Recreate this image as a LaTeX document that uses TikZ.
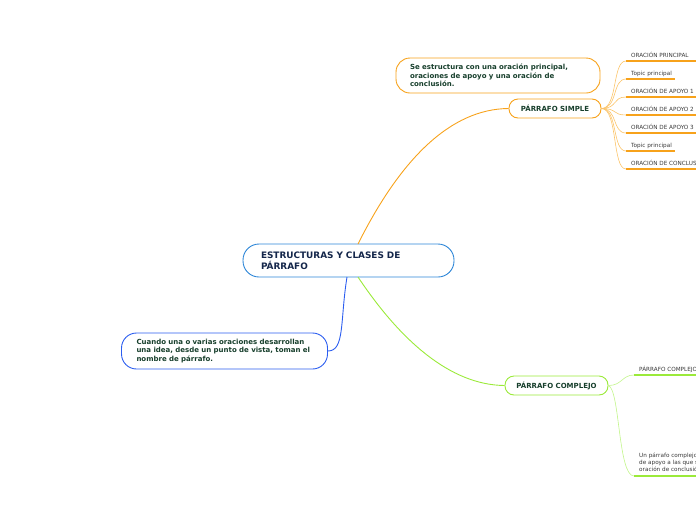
\documentclass[tikz,border=0pt]{standalone}
\usepackage{fontspec}
\setmainfont{DejaVu Sans}
\definecolor{orng}{HTML}{F7A21B}
\definecolor{lorng}{HTML}{FBC46A}
\definecolor{grn}{HTML}{9BEA3A}
\definecolor{lgrn}{HTML}{C2F58A}
\definecolor{cblue}{HTML}{2D86D8}
\definecolor{lblue}{HTML}{2B5DF0}
\definecolor{dtxt}{HTML}{173F2C}
\definecolor{ntxt}{HTML}{14264A}
\definecolor{gtxt}{HTML}{3A3A3A}
\tikzset{
  bubble/.style={draw, line width=0.9pt, fill=white, rounded corners=9pt, inner ysep=0pt, align=left, text=dtxt, font=\bfseries\fontsize{7}{8.7}\selectfont},
  leaftxt/.style={inner sep=0pt, text=gtxt, font=\fontsize{5.7}{7}\selectfont, align=left},
  uline/.style={line width=1.3pt},
  conn/.style={line width=0.6pt},
}
\begin{document}
\begin{tikzpicture}[x=1pt,y=-1pt]
\useasboundingbox (0,0) rectangle (696,520);
\clip (0,0) rectangle (696,520);
% central
\node[bubble, draw=cblue, fill=white, rounded corners=16pt, text width=175pt, inner xsep=18pt, minimum height=33pt, text=ntxt, font=\bfseries\fontsize{8.9}{11.2}\selectfont] (c) at (348.5,260.5) {ESTRUCTURAS Y CLASES DE\\PÁRRAFO};
% top note
\node[bubble, draw=orng, rounded corners=14pt, text width=176pt, inner xsep=14pt, minimum height=35pt] (n1) at (498,75.5) {Se estructura con una oración principal,\\oraciones de apoyo y una oración de\\conclusión.};
% simple
\node[bubble, draw=orng, minimum width=92pt, minimum height=19pt, align=center, inner xsep=0pt] (s) at (555,108.5) {PÁRRAFO SIMPLE};
% left note
\node[bubble, draw=lblue, rounded corners=15pt, text width=176pt, inner xsep=15pt, minimum height=36pt] (n2) at (224.5,351) {Cuando una o varias oraciones desarrollan\\una idea, desde un punto de vista, toman el\\nombre de párrafo.};
% complejo
\node[bubble, draw=grn, minimum width=103pt, minimum height=19pt, align=center, inner xsep=0pt] (k) at (556.5,385.5) {PÁRRAFO COMPLEJO};
% main connectors
\draw[orng, line width=0.9pt] (358,244) .. controls (400,160) and (450,109) .. (s.west);
\draw[lblue, line width=0.9pt] (347,277) .. controls (340,320) and (345,351) .. (n2.east);
\draw[grn, line width=0.9pt] (358,277) .. controls (400,340) and (450,385) .. (k.west);
% simple leaves
\foreach \i/\y/\t/\e in {1/61/ORACIÓN PRINCIPAL/700, 2/79/Topic principal/675, 3/97/ORACIÓN DE APOYO 1/700, 4/115/ORACIÓN DE APOYO 2/700, 5/133/ORACIÓN DE APOYO 3/700, 6/151/Topic principal/675, 7/169/ORACIÓN DE CONCLUSIÓN/720}{
  \coordinate (sl\i) at (626,\y);
  \coordinate (se\i) at (\e,\y);
  \draw[lorng, conn] (s.east) .. controls (618,108.5) and (612,\y) .. (sl\i);
  \draw[orng, uline] (sl\i) -- (se\i);
  \node[leaftxt, anchor=base west] (st\i) at (631,\y-4) {\t};
}
% complejo leaves
\coordinate (kl1) at (634,375);
\coordinate (ke1) at (700,375);
\coordinate (kl2) at (634,476);
\coordinate (ke2) at (700,476);
\draw[lgrn, conn] (k.east) .. controls (622,385.5) and (622,375) .. (kl1);
\draw[lgrn, conn] (k.east) .. controls (620,390) and (618,476) .. (kl2);
\draw[grn, uline] (kl1) -- (ke1);
\draw[grn, uline] (kl2) -- (ke2);
\node[leaftxt, anchor=base west] (kt1) at (639,371) {PÁRRAFO COMPLEJO};
\node[leaftxt, anchor=north west] (kt2) at (639,453) {Un párrafo complejo\\de apoyo a las que s\\oración de conclusió};
\end{tikzpicture}
\end{document}
